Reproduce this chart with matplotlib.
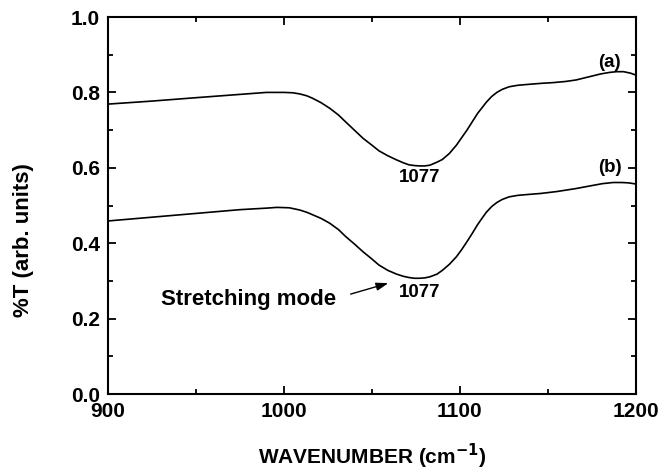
import matplotlib.pyplot as plt
from matplotlib.ticker import MultipleLocator

plt.rcParams['font.family'] = ['Liberation Sans', 'DejaVu Sans']
plt.rcParams['font.weight'] = 'bold'
plt.rcParams['mathtext.default'] = 'bf'

# spectrum (a)
wn_a = [900, 925, 950, 970, 990, 1000, 1005, 1009, 1013, 1016, 1021, 1026, 1031,
        1035, 1040, 1045, 1050, 1054, 1059, 1064, 1068, 1071, 1074, 1077, 1080,
        1083, 1087, 1090, 1094, 1098, 1101, 1104, 1107, 1110, 1113, 1115, 1118,
        1121, 1124, 1128, 1133, 1138, 1146, 1153, 1160, 1166, 1173, 1180, 1185,
        1189, 1193, 1197, 1200]
t_a = [0.769, 0.777, 0.786, 0.793, 0.800, 0.800, 0.799, 0.796, 0.791, 0.785, 0.773,
       0.758, 0.740, 0.722, 0.700, 0.678, 0.660, 0.645, 0.632, 0.621, 0.613, 0.608,
       0.606, 0.605, 0.605, 0.607, 0.615, 0.622, 0.638, 0.660, 0.680, 0.700, 0.722,
       0.744, 0.762, 0.774, 0.789, 0.800, 0.808, 0.815, 0.819, 0.821, 0.824, 0.826,
       0.829, 0.833, 0.841, 0.849, 0.853, 0.855, 0.855, 0.851, 0.846]

# spectrum (b)
wn_b = [900, 925, 950, 975, 990, 996, 1003, 1009, 1013, 1016, 1021, 1026, 1031,
        1035, 1040, 1045, 1050, 1054, 1059, 1064, 1068, 1071, 1074, 1077, 1080,
        1083, 1087, 1090, 1094, 1098, 1101, 1104, 1107, 1110, 1113, 1115, 1118,
        1121, 1124, 1128, 1133, 1138, 1146, 1155, 1166, 1174, 1181, 1187, 1192,
        1196, 1200]
t_b = [0.459, 0.469, 0.479, 0.489, 0.493, 0.495, 0.494, 0.488, 0.482, 0.476, 0.466,
       0.453, 0.436, 0.418, 0.398, 0.377, 0.358, 0.342, 0.328, 0.318, 0.312, 0.309,
       0.307, 0.307, 0.308, 0.311, 0.318, 0.328, 0.344, 0.364, 0.383, 0.404, 0.426,
       0.449, 0.469, 0.482, 0.497, 0.508, 0.516, 0.523, 0.527, 0.529, 0.532, 0.537,
       0.545, 0.552, 0.558, 0.561, 0.561, 0.560, 0.557]

peak = 1077

fig = plt.figure(figsize=(6.61, 4.70), dpi=100)
ax = fig.add_axes([0.1634, 0.1617, 0.7986, 0.8021])

ax.plot(wn_a, t_a, color='black', lw=1.2)
ax.plot(wn_b, t_b, color='black', lw=1.2)

ax.set_xlim(900, 1200)
ax.set_ylim(0.0, 1.0)
ax.xaxis.set_major_locator(MultipleLocator(100))
ax.xaxis.set_minor_locator(MultipleLocator(50))
ax.yaxis.set_major_locator(MultipleLocator(0.2))
ax.yaxis.set_minor_locator(MultipleLocator(0.1))
ax.yaxis.set_major_formatter(plt.FormatStrFormatter('%.1f'))

for s in ax.spines.values():
    s.set_linewidth(1.5)
ax.tick_params(which='both', direction='in', top=True, right=True,
               labelsize=15, width=1.3)
ax.tick_params(which='major', length=6, pad=6)
ax.tick_params(which='minor', length=3.5)

ax.set_xlabel('WAVENUMBER (cm$^{-1}$)', fontsize=15, fontweight='bold',
              va='baseline')
ax.xaxis.set_label_coords(0.5, -0.187)
ax.set_ylabel('%T (arb. units)', fontsize=16, fontweight='bold', va='center')
ax.yaxis.set_label_coords(-0.161, 0.408)

ax.text(peak, 0.573, str(peak), ha='center', va='center', fontsize=13.5)
ax.text(peak, 0.268, str(peak), ha='center', va='center', fontsize=13.5)
ax.text(1185, 0.879, '(a)', ha='center', va='center', fontsize=13.5)
ax.text(1185, 0.600, '(b)', ha='center', va='center', fontsize=13.5)

ax.text(930, 0.252, 'Stretching mode', ha='left', va='center', fontsize=16)
ax.annotate('', xy=(1059.3, 0.294), xytext=(1037.9, 0.265),
            arrowprops=dict(arrowstyle='-|>,head_length=0.6,head_width=0.2',
                            color='black', lw=1, shrinkA=0, shrinkB=0,
                            mutation_scale=12))

fig.savefig('out.png', dpi=100)
